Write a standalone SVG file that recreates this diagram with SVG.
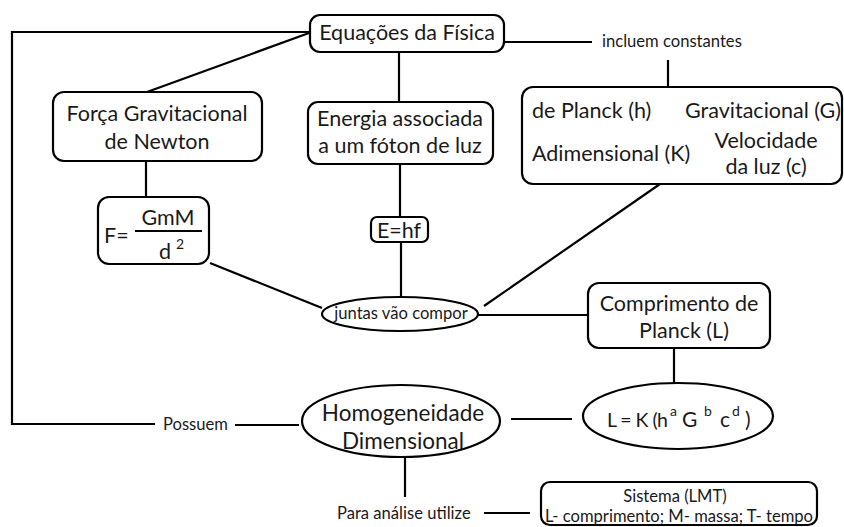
<svg xmlns="http://www.w3.org/2000/svg" width="844" height="527" viewBox="0 0 844 527">
<style>
.box{fill:#fff;stroke:#000;stroke-width:2.2}
.ln{fill:none;stroke:#000;stroke-width:2.2}
text{font-family:Lato,"Liberation Sans",sans-serif;fill:#1a1a1a}
.t20{font-size:21.5px}
.t21{font-size:22.5px}
.t15{font-size:16.6px}
.f{font-size:21px}
.sup{font-size:14px}
</style>
<rect width="844" height="527" fill="#fff"/>
<g id="connectors">
<path class="ln" d="M310,32 H12 V424 H155"/>
<path class="ln" d="M235,425 H299"/>
<path class="ln" d="M309,33 L147,92"/>
<path class="ln" d="M399,52 V102"/>
<path class="ln" d="M504,42 H592"/>
<path class="ln" d="M668,60 V88"/>
<path class="ln" d="M146,161 V197"/>
<path class="ln" d="M210,263 L322,308"/>
<path class="ln" d="M400,164 V217"/>
<path class="ln" d="M401,242 V298"/>
<path class="ln" d="M660,184 L484,306"/>
<path class="ln" d="M478,315 H588"/>
<path class="ln" d="M674,348 V383"/>
<path class="ln" d="M511,419 H572"/>
<path class="ln" d="M405,457 V497"/>
<path class="ln" d="M484,513 H530"/>
</g>
<g id="equacoes">
<rect class="box" x="310" y="15" width="194" height="37" rx="10"/>
<text class="t20" x="407" y="40" text-anchor="middle">Equações da Física</text>
</g>
<g id="incluem">
<text class="t15" x="602" y="47">incluem constantes</text>
</g>
<g id="forca">
<rect class="box" x="53" y="92" width="209" height="69" rx="11"/>
<text class="t20" x="157" y="121" text-anchor="middle">Força Gravitacional</text>
<text class="t20" x="157" y="149" text-anchor="middle">de Newton</text>
</g>
<g id="energia">
<rect class="box" x="308" y="102" width="185" height="62" rx="10"/>
<text class="t20" x="400" y="126" text-anchor="middle">Energia associada</text>
<text class="t20" x="400" y="153" text-anchor="middle">a um fóton de luz</text>
</g>
<g id="constantes">
<rect class="box" x="522" y="87" width="320" height="97" rx="11"/>
<text class="t20" x="532" y="118">de Planck (h)</text>
<text class="t20" x="841" y="118" text-anchor="end">Gravitacional (G)</text>
<text class="t20" x="532" y="161">Adimensional (K)</text>
<text class="t20" x="766" y="148" text-anchor="middle">Velocidade</text>
<text class="t20" x="766" y="174" text-anchor="middle">da luz (c)</text>
</g>
<g id="formulaF">
<rect class="box" x="98" y="197" width="111" height="67" rx="11"/>
<text class="t20" x="104" y="243">F=</text>
<text class="t20" x="168" y="225" text-anchor="middle">GmM</text>
<line class="ln" x1="135" y1="231" x2="202" y2="231"/>
<text class="t20" x="159" y="259">d</text>
<text class="sup" x="176" y="249">2</text>
</g>
<g id="ehf">
<rect class="box" x="371" y="217" width="57" height="25" rx="6"/>
<text class="t20" x="399" y="238" text-anchor="middle">E=hf</text>
</g>
<g id="juntas">
<ellipse class="box" cx="400" cy="314" rx="78" ry="17"/>
<text class="t15" x="401" y="319" text-anchor="middle">juntas vão compor</text>
</g>
<g id="comprimento">
<rect class="box" x="588" y="283" width="182" height="65" rx="11"/>
<text class="t20" x="679" y="311" text-anchor="middle">Comprimento de</text>
<text class="t20" x="684" y="338" text-anchor="middle">Planck (L)</text>
</g>
<g id="homogeneidade">
<ellipse class="box" cx="401" cy="421" rx="99" ry="36"/>
<text class="t21" x="403" y="421" text-anchor="middle">Homogeneidade</text>
<text class="t21" x="403" y="449" text-anchor="middle">Dimensional</text>
</g>
<g id="possuem">
<text class="t15" x="163" y="430">Possuem</text>
</g>
<g id="formulaL">
<ellipse class="box" cx="678" cy="416" rx="95" ry="33"/>
<text x="607" y="427" style="font-size:19.5px" textLength="61" lengthAdjust="spacing">L = K (h</text>
<text class="sup" x="670" y="416">a</text>
<text class="f" x="682" y="427">G</text>
<text class="sup" x="704" y="416">b</text>
<text class="f" x="720" y="427">c</text>
<text class="sup" x="732" y="416">d</text>
<text class="f" x="745" y="427">)</text>
</g>
<g id="para">
<text class="t15" x="337" y="519">Para análise utilize</text>
</g>
<g id="sistema">
<rect class="box" x="541" y="482" width="276" height="43" rx="9"/>
<text class="t15" x="675" y="502" text-anchor="middle">Sistema (LMT)</text>
<text class="t15" x="679" y="522" text-anchor="middle">L- comprimento; M- massa; T- tempo</text>
</g>
</svg>
